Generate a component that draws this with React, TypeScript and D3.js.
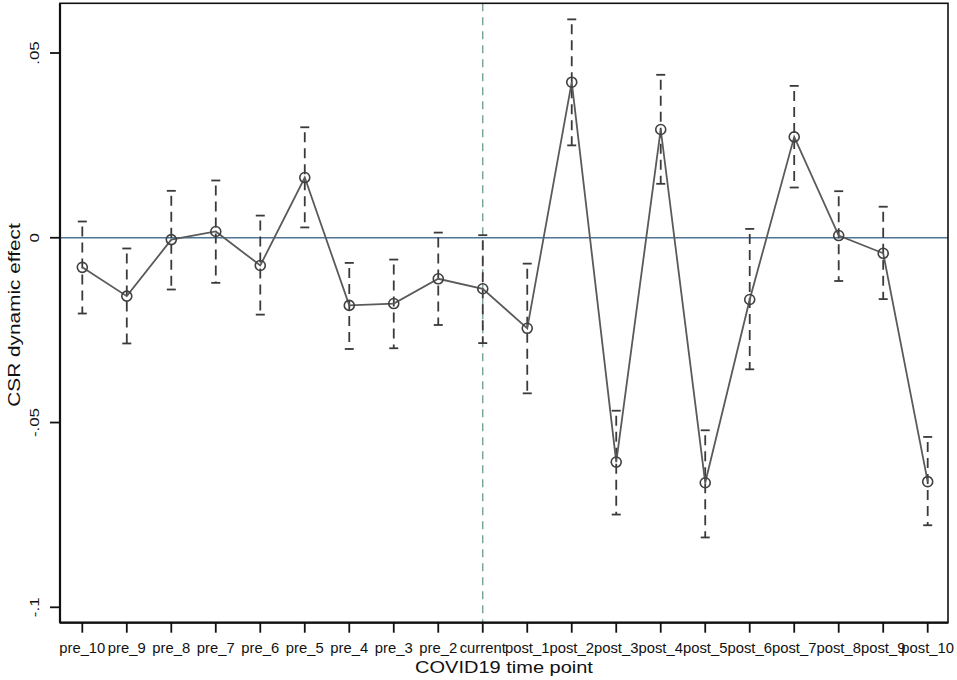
import React from "react";
import * as d3 from "d3";

const categories = [
  "pre_10", "pre_9", "pre_8", "pre_7", "pre_6", "pre_5", "pre_4", "pre_3", "pre_2", "current",
  "post_1", "post_2", "post_3", "post_4", "post_5", "post_6", "post_7", "post_8", "post_9", "post_10",
];
const estimates = [
  -0.008, -0.0158, -0.0005, 0.0017, -0.0075, 0.0163, -0.0183, -0.0178, -0.0111, -0.0138,
  -0.0245, 0.0421, -0.0607, 0.0293, -0.0663, -0.0167, 0.0273, 0.0006, -0.0042, -0.066,
];
const upperCI = [
  0.0044, -0.0029, 0.0127, 0.0155, 0.006, 0.0299, -0.0068, -0.0059, 0.0014, 0.0007,
  -0.007, 0.0591, -0.0468, 0.0441, -0.0521, 0.0024, 0.0411, 0.0126, 0.0084, -0.0539,
];
const lowerCI = [
  -0.0205, -0.0286, -0.014, -0.0122, -0.0208, 0.0028, -0.0301, -0.0299, -0.0236, -0.0285,
  -0.0421, 0.025, -0.0749, 0.0146, -0.0811, -0.0356, 0.0136, -0.0117, -0.0166, -0.0778,
];
const yTicks = [0.05, 0, -0.05, -0.1];
const yTickLabels = [".05", "0", "-.05", "-.1"];
const eventCategory = "current";
const xTitle = "COVID19 time point";
const yTitle = "CSR dynamic effect";

const W = 957;
const H = 680;
const plotLeft = 60;
const plotRight = 948;
const plotTop = 3.3;
const plotBottom = 622.7;
const FONT = "'Liberation Sans', Arial, Helvetica, sans-serif";

export default function App() {
  const x = d3.scalePoint<string>().domain(categories).range([82.3, 927.7]);
  const y = d3.scaleLinear().domain([-0.1, 0.05]).range([607.3, 53]);

  const pts = categories.map((c, i) => ({ c, v: estimates[i], lo: lowerCI[i], hi: upperCI[i] }));
  const line = d3
    .line<{ c: string; v: number }>()
    .x((d) => x(d.c) as number)
    .y((d) => y(d.v));

  const capW = 4.5;

  return (
    <svg
      width={W}
      height={H}
      viewBox={`0 0 ${W} ${H}`}
      style={{ position: "absolute", left: 0, top: 0, background: "#fff" }}
    >
      <rect x={0} y={0} width={W} height={H} fill="#fff" />
      {/* zero line */}
      <line x1={plotLeft} x2={plotRight} y1={y(0)} y2={y(0)} stroke="#4e7595" strokeWidth={1.6} />
      {/* event line */}
      <line
        x1={x(eventCategory)}
        x2={x(eventCategory)}
        y1={plotTop}
        y2={plotBottom}
        stroke="#6a9a8a"
        strokeWidth={1.3}
        strokeDasharray="8,6"
      />
      {/* error bars */}
      {pts.map((d) => {
        const cx = x(d.c) as number;
        return (
          <g key={"e" + d.c} stroke="#3a3a3a" strokeWidth={1.8}>
            <line x1={cx} x2={cx} y1={y(d.hi)} y2={y(d.lo)} strokeDasharray="10,6" strokeDashoffset={-5} />
            <line x1={cx - capW} x2={cx + capW} y1={y(d.hi)} y2={y(d.hi)} />
            <line x1={cx - capW} x2={cx + capW} y1={y(d.lo)} y2={y(d.lo)} />
          </g>
        );
      })}
      {/* connecting line */}
      <path d={line(pts) || ""} fill="none" stroke="#5a5a5a" strokeWidth={1.8} />
      {/* markers */}
      {pts.map((d) => (
        <circle
          key={"c" + d.c}
          cx={x(d.c) as number}
          cy={y(d.v)}
          r={5}
          fill="none"
          stroke="#404040"
          strokeWidth={1.6}
        />
      ))}
      {/* frame */}
      <rect
        x={plotLeft}
        y={plotTop}
        width={plotRight - plotLeft}
        height={plotBottom - plotTop}
        fill="none"
        stroke="#111"
        strokeWidth={1.6}
      />
      <line x1={plotLeft} x2={plotLeft} y1={plotTop} y2={plotBottom} stroke="#111" strokeWidth={2.2} />
      <line x1={plotLeft} x2={plotRight} y1={plotBottom} y2={plotBottom} stroke="#111" strokeWidth={2.2} />
      {/* y ticks */}
      {yTicks.map((t, i) => (
        <g key={"yt" + i}>
          <line x1={plotLeft - 10} x2={plotLeft} y1={y(t)} y2={y(t)} stroke="#111" strokeWidth={1.8} />
          <text
            transform={`translate(38.5,${y(t)}) rotate(-90) scale(1.3,1)`}
            textAnchor="middle"
            fontFamily={FONT}
            fontSize={13}
            fill="#111"
          >
            {yTickLabels[i]}
          </text>
        </g>
      ))}
      {/* x ticks */}
      {categories.map((c) => (
        <g key={"xt" + c}>
          <line
            x1={x(c) as number}
            x2={x(c) as number}
            y1={plotBottom}
            y2={plotBottom + 10}
            stroke="#111"
            strokeWidth={1.8}
          />
          <text x={x(c) as number} y={653} textAnchor="middle" fontFamily={FONT} fontSize={14.8} fill="#111">
            {c}
          </text>
        </g>
      ))}
      {/* titles */}
      <text
        transform={`translate(504,673) scale(1.25,1)`}
        textAnchor="middle"
        fontFamily={FONT}
        fontSize={16}
        fill="#111"
      >
        {xTitle}
      </text>
      <text
        transform={`translate(19.5,315) rotate(-90) scale(1.3,1)`}
        textAnchor="middle"
        fontFamily={FONT}
        fontSize={16}
        fill="#111"
      >
        {yTitle}
      </text>
    </svg>
  );
}
